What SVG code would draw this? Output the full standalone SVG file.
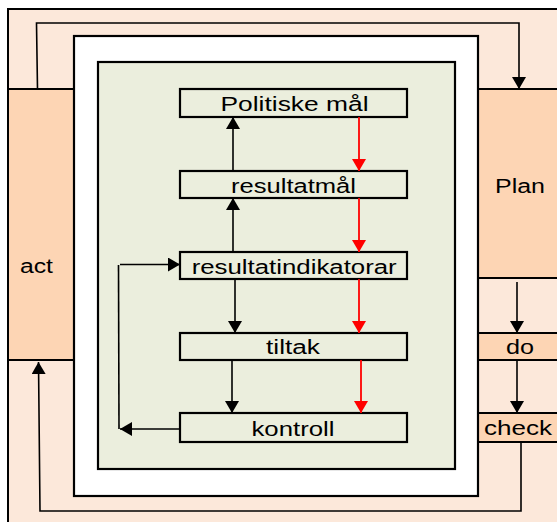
<svg xmlns="http://www.w3.org/2000/svg" width="557" height="522" viewBox="0 0 557 522">
  <defs>
    <marker id="arrow" markerUnits="userSpaceOnUse" markerWidth="13" markerHeight="15" refX="12" refY="7" orient="auto">
      <path d="M0,0 L12,7 L0,14 Z" fill="#000"/>
    </marker>
    <marker id="arrow-red" markerUnits="userSpaceOnUse" markerWidth="13" markerHeight="15" refX="12" refY="7" orient="auto">
      <path d="M0,0 L12,7 L0,14 Z" fill="#ff0000"/>
    </marker>
  </defs>
  <style>
    .frame { fill: #fce8da; stroke: #000; stroke-width: 2; }
    .phase { fill: #fdd5b4; stroke: #000; stroke-width: 2; }
    .panel { fill: #ffffff; stroke: #000; stroke-width: 2.2; }
    .inner { fill: #ebeedd; stroke: #000; stroke-width: 2.2; }
    .step { fill: #ebeedd; stroke: #000; stroke-width: 2.2; }
    .lbl { font-family: "Liberation Sans", Arial, sans-serif; font-size: 20px; fill: #000; text-anchor: middle; }
    .link { fill: none; stroke: #000; stroke-width: 1.6; marker-end: url(#arrow); }
    .flow { fill: none; stroke: #ff0000; stroke-width: 1.8; marker-end: url(#arrow-red); }
    .plain { fill: none; stroke: #000; stroke-width: 1.6; }
  </style>

  <!-- outer PDCA frame -->
  <rect class="frame" x="8" y="9" width="560" height="530"/>

  <g id="act">
    <rect class="phase" x="8" y="89" width="67" height="271"/>
    <text class="lbl" x="36.5" y="273" textLength="33" lengthAdjust="spacingAndGlyphs">act</text>
  </g>
  <g id="plan">
    <rect class="phase" x="478" y="89" width="90" height="189"/>
    <text class="lbl" x="520" y="193" textLength="50" lengthAdjust="spacingAndGlyphs">Plan</text>
  </g>
  <g id="do">
    <rect class="phase" x="478" y="333" width="90" height="27"/>
    <text class="lbl" x="520" y="354" textLength="28" lengthAdjust="spacingAndGlyphs">do</text>
  </g>
  <g id="check">
    <rect class="phase" x="478" y="413" width="90" height="29"/>
    <text class="lbl" x="518" y="435" textLength="68" lengthAdjust="spacingAndGlyphs">check</text>
  </g>

  <!-- white panel and inner goal chain panel -->
  <rect class="panel" x="74" y="36" width="404" height="460"/>
  <rect class="inner" x="98" y="62" width="357" height="407"/>

  <g id="politiske-maal">
    <rect class="step" x="180" y="89" width="227" height="28"/>
    <text class="lbl" x="294.5" y="111" textLength="148" lengthAdjust="spacingAndGlyphs">Politiske mål</text>
  </g>
  <g id="resultatmaal">
    <rect class="step" x="180" y="171" width="227" height="27"/>
    <text class="lbl" x="293.5" y="193" textLength="125" lengthAdjust="spacingAndGlyphs">resultatmål</text>
  </g>
  <g id="resultatindikatorar">
    <rect class="step" x="180" y="252" width="227" height="27"/>
    <text class="lbl" x="294.2" y="274" textLength="205" lengthAdjust="spacingAndGlyphs">resultatindikatorar</text>
  </g>
  <g id="tiltak">
    <rect class="step" x="180" y="333" width="227" height="27"/>
    <text class="lbl" x="293" y="354" textLength="54" lengthAdjust="spacingAndGlyphs">tiltak</text>
  </g>
  <g id="kontroll">
    <rect class="step" x="180" y="413" width="227" height="29"/>
    <text class="lbl" x="293" y="436" textLength="83" lengthAdjust="spacingAndGlyphs">kontroll</text>
  </g>

  <g id="connectors">
    <!-- PDCA cycle -->
    <polyline class="link" points="37.5,89 36.5,23 519,23 519,89"/>
    <line class="link" x1="517" y1="282" x2="517" y2="333"/>
    <line class="link" x1="517" y1="360" x2="517" y2="413"/>
    <polyline class="link" points="521,442 521,511 40,511 38.5,362"/>

    <!-- upward goal links -->
    <line class="link" x1="233" y1="171" x2="233" y2="117"/>
    <line class="link" x1="233" y1="252" x2="233" y2="198"/>
    <!-- downward steps -->
    <line class="link" x1="235" y1="279" x2="235" y2="333"/>
    <line class="link" x1="232" y1="360" x2="232" y2="413"/>

    <!-- feedback loop from kontroll -->
    <line class="link" x1="180" y1="429" x2="120" y2="429"/>
    <line class="plain" x1="119" y1="429" x2="118.5" y2="265"/>
    <line class="link" x1="120" y1="264.5" x2="180" y2="264.5"/>

    <!-- red main chain -->
    <line class="flow" x1="359" y1="117" x2="359" y2="171"/>
    <line class="flow" x1="359" y1="198" x2="359" y2="252"/>
    <line class="flow" x1="359" y1="279" x2="359" y2="333"/>
    <line class="flow" x1="361" y1="360" x2="361" y2="413"/>
  </g>
</svg>
